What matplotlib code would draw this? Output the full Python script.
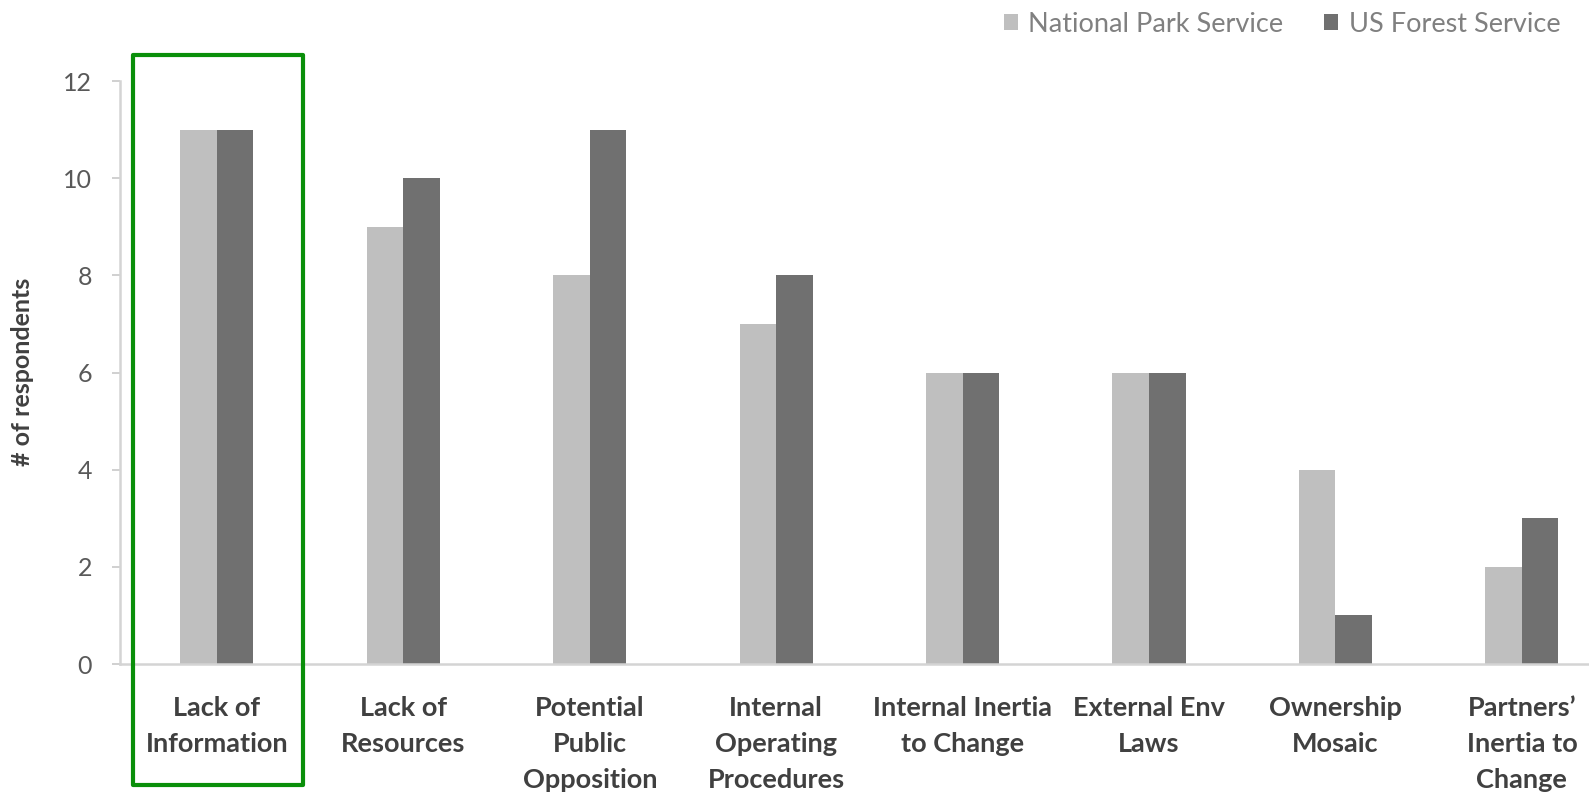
import matplotlib.pyplot as plt
import matplotlib.patches as patches
import numpy as np

plt.rcParams['font.family'] = ['Lato', 'DejaVu Sans']

categories = ["Lack of\nInformation", "Lack of\nResources", "Potential\nPublic\nOpposition",
              "Internal\nOperating\nProcedures", "Internal Inertia\nto Change", "External Env\nLaws",
              "Ownership\nMosaic", "Partners\u2019\nInertia to\nChange"]
nps = [11, 9, 8, 7, 6, 6, 4, 2]
usfs = [11, 10, 11, 8, 6, 6, 1, 3]
yticks = [0, 2, 4, 6, 8, 10, 12]

fig = plt.figure(figsize=(15.89, 7.94), dpi=100)
ax = fig.add_axes([0.0755, 0.1637, 0.9245, 0.734])

x = np.arange(len(categories))
w = 0.196
ax.bar(x - w / 2, nps, w, color='#bfbfbf', label='National Park Service')
ax.bar(x + w / 2, usfs, w, color='#707070', label='US Forest Service')

ax.set_xlim(-0.52, 7.36)
ax.set_ylim(0, 12)
ax.set_yticks(yticks)
ax.set_xticks(x)
ax.set_xticklabels(categories, fontsize=19.5, fontweight='bold', color='#404040',
                   linespacing=1.6, va='top')
ax.tick_params(axis='x', length=0, pad=23)
ax.tick_params(axis='y', length=6, width=1.2, color='#c8c8c8', labelsize=18,
               labelcolor='#595959', pad=14)

for s in ['top', 'right']:
    ax.spines[s].set_visible(False)
for s in ['left', 'bottom']:
    ax.spines[s].set_color('#d4d4d4')
    ax.spines[s].set_linewidth(1.8)

fig.text(0.014, 0.532, '# of respondents', rotation=90, fontsize=18, fontweight='bold',
         color='#404040', ha='center', va='center')

ax.legend(loc='center right', bbox_to_anchor=(0.997, 1.098), ncol=2, frameon=False,
          fontsize=19.5, labelcolor='#808080', handlelength=0.5, handleheight=0.5,
          handletextpad=0.4, columnspacing=1.5)

# highlight box around the first category
fig.patches.append(patches.Rectangle((0.0837, 0.0113), 0.107, 0.919, transform=fig.transFigure,
                                     fill=False, edgecolor='#0a8f0a', linewidth=3, joinstyle='round'))

fig.savefig('out.png', dpi=100)
